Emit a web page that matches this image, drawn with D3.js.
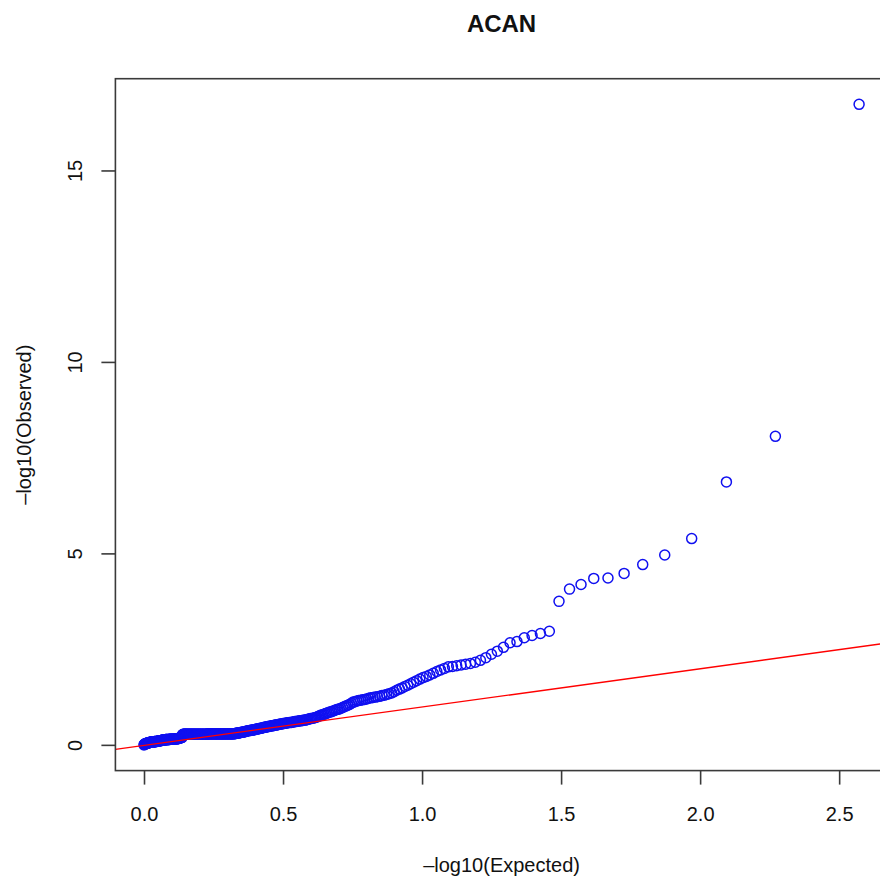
<!DOCTYPE html>
<html>
<head>
<meta charset="utf-8">
<script src="https://cdn.jsdelivr.net/npm/d3@7"></script>
<style>
  html, body { margin: 0; padding: 0; background: #fff; }
  svg text { font-family: "Liberation Sans", Arial, Helvetica, sans-serif; fill: #111; }
</style>
</head>
<body>
<div id="chart"></div>
<script>
// QQ plot for ACAN: observed -log10(p), sorted from the strongest hit down
const title = 'ACAN';
const xLabel = '\u2013log10(Expected)';
const yLabel = '\u2013log10(Observed)';
const xTicks = [0.0, 0.5, 1.0, 1.5, 2.0, 2.5];
const yTicks = [0, 5, 10, 15];

const observed = [
	16.74, 8.07, 6.88, 5.40, 4.97, 4.72, 4.49, 4.37, 4.36, 4.20,
	4.08, 3.76, 2.98, 2.92, 2.87, 2.81, 2.71, 2.68, 2.56, 2.46,
	2.38, 2.29, 2.22, 2.17, 2.14, 2.12, 2.10, 2.08, 2.06, 2.05,
	2.01, 1.97, 1.93, 1.88, 1.84, 1.80, 1.77, 1.73, 1.69, 1.65,
	1.61, 1.57, 1.54, 1.50, 1.47, 1.44, 1.40, 1.37, 1.35, 1.33,
	1.31, 1.30, 1.28, 1.27, 1.26, 1.25, 1.24, 1.23, 1.21, 1.20,
	1.19, 1.18, 1.17, 1.16, 1.14, 1.13, 1.10, 1.07, 1.05, 1.03,
	1.01, 0.99, 0.97, 0.95, 0.94, 0.93, 0.91, 0.90, 0.88, 0.87,
	0.86, 0.84, 0.83, 0.81, 0.80, 0.79, 0.77, 0.76, 0.74, 0.73,
	0.72, 0.71, 0.70, 0.70, 0.69, 0.68, 0.67, 0.66, 0.66, 0.65,
	0.65, 0.64, 0.64, 0.63, 0.63, 0.62, 0.62, 0.61, 0.61, 0.60,
	0.60, 0.60, 0.59, 0.59, 0.58, 0.58, 0.57, 0.57, 0.56, 0.56,
	0.55, 0.55, 0.54, 0.54, 0.53, 0.53, 0.52, 0.52, 0.51, 0.51,
	0.50, 0.50, 0.49, 0.49, 0.48, 0.48, 0.47, 0.47, 0.46, 0.46,
	0.45, 0.45, 0.44, 0.44, 0.43, 0.43, 0.42, 0.42, 0.41, 0.41,
	0.40, 0.40, 0.40, 0.39, 0.39, 0.39, 0.38, 0.38, 0.37, 0.37,
	0.36, 0.36, 0.35, 0.35, 0.34, 0.34, 0.34, 0.33, 0.33, 0.33,
	0.32, 0.32, 0.32, 0.31, 0.31, 0.31, 0.30, 0.30, 0.30, 0.30,
	0.30, 0.30, 0.30, 0.30, 0.30, 0.30, 0.30, 0.30, 0.30, 0.30,
	0.30, 0.30, 0.30, 0.30, 0.30, 0.30, 0.30, 0.30, 0.30, 0.30,
	0.30, 0.30, 0.30, 0.30, 0.30, 0.30, 0.30, 0.30, 0.30, 0.30,
	0.30, 0.30, 0.30, 0.30, 0.30, 0.30, 0.30, 0.30, 0.30, 0.30,
	0.29, 0.29, 0.29, 0.29, 0.29, 0.29, 0.29, 0.29, 0.29, 0.29,
	0.29, 0.29, 0.29, 0.29, 0.29, 0.29, 0.29, 0.29, 0.29, 0.29,
	0.29, 0.29, 0.29, 0.29, 0.29, 0.29, 0.29, 0.29, 0.29, 0.29,
	0.29, 0.29, 0.29, 0.29, 0.29, 0.29, 0.29, 0.29, 0.29, 0.29,
	0.29, 0.29, 0.29, 0.29, 0.29, 0.29, 0.29, 0.29, 0.29, 0.29,
	0.28, 0.21, 0.21, 0.20, 0.20, 0.20, 0.19, 0.19, 0.19, 0.18,
	0.18, 0.18, 0.17, 0.17, 0.17, 0.17, 0.17, 0.17, 0.17, 0.17,
	0.16, 0.16, 0.16, 0.16, 0.16, 0.16, 0.16, 0.16, 0.16, 0.16,
	0.16, 0.16, 0.15, 0.15, 0.15, 0.15, 0.15, 0.15, 0.15, 0.15,
	0.15, 0.15, 0.14, 0.14, 0.14, 0.14, 0.14, 0.14, 0.14, 0.14,
	0.13, 0.13, 0.13, 0.13, 0.13, 0.12, 0.12, 0.12, 0.12, 0.12,
	0.11, 0.11, 0.11, 0.11, 0.10, 0.10, 0.10, 0.10, 0.10, 0.10,
	0.10, 0.10, 0.09, 0.09, 0.09, 0.09, 0.09, 0.09, 0.09, 0.09,
	0.09, 0.09, 0.08, 0.08, 0.08, 0.08, 0.07, 0.07, 0.07, 0.07,
	0.06, 0.06, 0.06, 0.06, 0.05, 0.05, 0.05, 0.04, 0.04, 0.04,
	0.03, 0.03, 0.01
];

// expected quantile of rank i out of n (as in a standard p-value QQ plot)
const n = observed.length;
const points = observed.map((o, i) => ({ e: -Math.log10((i + 1) / n), o: o }));

const width = 880;
const height = 880;
const plot = { left: 115.4, right: 887.7, top: 78.7, bottom: 770.6 };

// R-style 4% padding around the data range
function padded(ext) {
	const d = (ext[1] - ext[0]) * 0.04;
	return [ext[0] - d, ext[1] + d];
}

const x = d3.scaleLinear()
	.domain(padded(d3.extent(points, d => d.e)))
	.range([plot.left, plot.right]);
const y = d3.scaleLinear()
	.domain(padded(d3.extent(points, d => d.o)))
	.range([plot.bottom, plot.top]);

const svg = d3.select('#chart')
	.append('svg')
	.attr('width', width)
	.attr('height', height)
	.style('display', 'block')
	.style('background', '#fff');

svg.append('defs').append('clipPath')
	.attr('id', 'clip')
	.append('rect')
	.attr('x', plot.left)
	.attr('y', plot.top)
	.attr('width', plot.right - plot.left)
	.attr('height', plot.bottom - plot.top);

// points
svg.append('g')
	.attr('clip-path', 'url(#clip)')
	.selectAll('circle')
	.data(points.slice().reverse())
	.enter()
	.append('circle')
	.attr('cx', d => x(d.e))
	.attr('cy', d => y(d.o))
	.attr('r', 5)
	.attr('fill', 'none')
	.attr('stroke', '#1010f0')
	.attr('stroke-width', 1.5);

// y = x reference line
const xd = x.domain();
svg.append('line')
	.attr('clip-path', 'url(#clip)')
	.attr('x1', x(xd[0]))
	.attr('y1', y(xd[0]))
	.attr('x2', x(xd[1]))
	.attr('y2', y(xd[1]))
	.attr('stroke', '#ff0000')
	.attr('stroke-width', 1.3);

// box
svg.append('rect')
	.attr('x', plot.left)
	.attr('y', plot.top)
	.attr('width', plot.right - plot.left)
	.attr('height', plot.bottom - plot.top)
	.attr('fill', 'none')
	.attr('stroke', '#3a3a3a')
	.attr('stroke-width', 1.6);

// x axis
const xAxis = svg.append('g')
	.attr('transform', `translate(0,${plot.bottom})`)
	.call(d3.axisBottom(x)
		.tickValues(xTicks)
		.tickSize(14)
		.tickPadding(22)
		.tickFormat(d3.format('.1f')));
xAxis.select('.domain').remove();
xAxis.selectAll('line').attr('stroke', '#3a3a3a').attr('stroke-width', 1.6);
xAxis.selectAll('text')
	.attr('font-size', 20)
	.attr('fill', '#111')
	.style('font-family', '"Liberation Sans", Arial, sans-serif');

// y axis (labels parallel to the axis, as in base R)
const yAxis = svg.append('g');
yAxis.selectAll('line')
	.data(yTicks)
	.enter()
	.append('line')
	.attr('x1', plot.left - 14)
	.attr('x2', plot.left)
	.attr('y1', d => y(d))
	.attr('y2', d => y(d))
	.attr('stroke', '#3a3a3a')
	.attr('stroke-width', 1.6);
yAxis.selectAll('text')
	.data(yTicks)
	.enter()
	.append('text')
	.attr('transform', d => `translate(81.7,${y(d)}) rotate(-90)`)
	.attr('text-anchor', 'middle')
	.attr('font-size', 20)
	.text(d => d);

// titles
svg.append('text')
	.attr('x', (plot.left + plot.right) / 2)
	.attr('y', 31.7)
	.attr('text-anchor', 'middle')
	.attr('font-size', 24)
	.attr('font-weight', 'bold')
	.text(title);

svg.append('text')
	.attr('x', (plot.left + plot.right) / 2)
	.attr('y', 872)
	.attr('text-anchor', 'middle')
	.attr('font-size', 20)
	.text(xLabel);

svg.append('text')
	.attr('transform', `translate(31,${(plot.top + plot.bottom) / 2}) rotate(-90)`)
	.attr('text-anchor', 'middle')
	.attr('font-size', 20)
	.text(yLabel);
</script>
</body>
</html>
